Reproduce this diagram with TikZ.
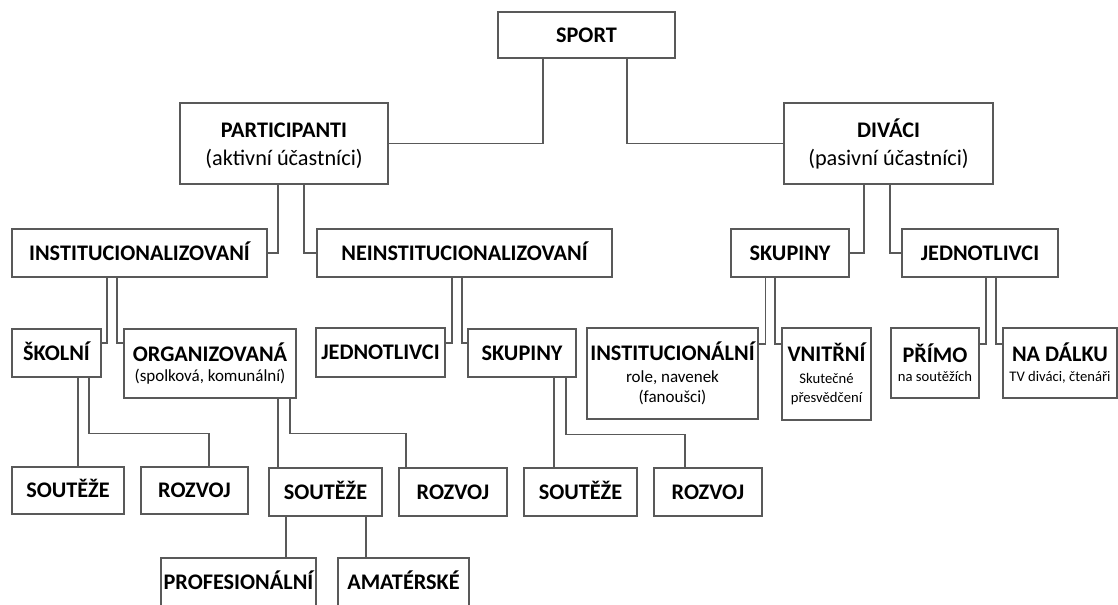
\documentclass[tikz,border=0pt]{standalone}
\usepackage{fontspec}
\setmainfont{Carlito}
\usepackage{xcolor}
\usetikzlibrary{calc}
\definecolor{linecolor}{HTML}{595959}
\newcommand{\midfont}{\fontsize{14.5}{17}\selectfont\mdseries}
\newcommand{\smallfont}{\fontsize{12.5}{15}\selectfont\mdseries}
\tikzset{
  box/.style={draw=linecolor, line width=1pt, rectangle, inner sep=0pt, align=center, fill=white, font=\fontsize{19}{21.5}\selectfont\bfseries},
  single/.style={box, text height=12pt, text depth=0pt},
  boxsize/.style 2 args={minimum width=#1*0.03cm, minimum height=#2*0.03cm},
  link/.style={draw=linecolor, line width=1pt}
}

\begin{document}
\begin{tikzpicture}[x=0.03cm, y=-0.03cm]%
\fill[white] (0,0) rectangle (1118,604);%
\useasboundingbox (0,0) rectangle (1118,604);%
% top
\node[single, boxsize={177}{46}] (sport) at (586.5,35) {SPORT};%
\node[box, boxsize={208}{81}] (part) at (284,143.5) {PARTICIPANTI\vphantom{Á}\\[2.5pt]\mdseries (aktivní účastníci)};%
\node[box, boxsize={209}{81}] (div) at (888.5,143.5) {DIVÁCI\\[2.5pt]\mdseries (pasivní účastníci)};%
% second row
\node[single, boxsize={255}{48}] (instit) at (139.5,253) {INSTITUCIONALIZOVANÍ};%
\node[single, boxsize={295}{48}] (neinst) at (464.5,253) {NEINSTITUCIONALIZOVANÍ};%
\node[single, boxsize={118}{48}] (skupd) at (790,253) {SKUPINY};%
\node[single, boxsize={156}{48}] (jednd) at (980,253) {JEDNOTLIVCI};%
% third row
\node[single, boxsize={89}{48}] (skolni) at (56.5,353) {ŠKOLNÍ};%
\node[box, boxsize={172}{69}] (organiz) at (210,363.5) {ORGANIZOVANÁ\\[-4.5pt]\midfont (spolková, komunální)};%
\node[single, boxsize={129}{49}] (jednp) at (380.5,352.5) {JEDNOTLIVCI};%
\node[single, boxsize={108}{48}] (skupp) at (522,353) {SKUPINY};%
\node[box, boxsize={171}{91}] (instl) at (672.5,373.5) {INSTITUCIONÁLNÍ\\[-2.7pt]\midfont role, navenek\\[-4.5pt]\midfont (fanoušci)};%
\node[box, boxsize={89}{92}] (vnit) at (826.5,374) {VNITŘNÍ\\[-3pt]\smallfont Skutečné\\[-4.7pt]\smallfont přesvědčení};%
\node[box, boxsize={88}{70}] (primo) at (935,363) {PŘÍMO\\[-5pt]\smallfont na soutěžích};%
\node[box, boxsize={114}{70}] (dalku) at (1060,363) {NA DÁLKU\vphantom{Ř}\\[-5pt]\smallfont TV diváci, čtenáři};%
% fourth row
\node[single, boxsize={112}{47}] (soutA) at (68,490.5) {SOUTĚŽE};%
\node[single, boxsize={107}{47}] (rozA) at (194.5,490.5) {ROZVOJ};%
\node[single, boxsize={113}{48}] (soutB) at (325.5,492) {SOUTĚŽE};%
\node[single, boxsize={108}{48}] (rozB) at (453,492) {ROZVOJ};%
\node[single, boxsize={113}{48}] (soutC) at (580.5,492) {SOUTĚŽE};%
\node[single, boxsize={108}{48}] (rozC) at (708,492) {ROZVOJ};%
% last row
\node[single, boxsize={155}{48}] (prof) at (238.5,582) {PROFESIONÁLNÍ};%
\node[single, boxsize={131}{48}] (amat) at (403.5,582) {AMATÉRSKÉ};%
% links
\draw[link] ($(sport.south)+(-43.5,0)$) |- (part.east);%
\draw[link] ($(sport.south)+(40.5,0)$) |- (div.west);%
\draw[link] ($(part.south)+(-6,0)$) |- (instit.east);%
\draw[link] ($(part.south)+(20,0)$) |- (neinst.west);%
\draw[link] ($(div.south)+(-24.5,0)$) |- (skupd.east);%
\draw[link] ($(div.south)+(1.5,0)$) |- (jednd.west);%
\draw[link] ($(instit.south)+(-32.5,0)$) |- ($(skolni.east)+(0,-10)$);%
\draw[link] ($(instit.south)+(-22.5,0)$) |- ($(organiz.west)+(0,-20.5)$);%
\draw[link] ($(neinst.south)+(-12.5,0)$) |- ($(jednp.east)+(0,-9.5)$);%
\draw[link] ($(neinst.south)+(-2.5,0)$) |- ($(skupp.west)+(0,-10)$);%
\draw[link] ($(skupd.south)+(-24.5,0)$) |- ($(instl.east)+(0,-29.5)$);%
\draw[link] ($(skupd.south)+(-15,0)$) |- ($(vnit.west)+(0,-30)$);%
\draw[link] ($(jednd.south)+(6,0)$) |- ($(primo.east)+(0,-19)$);%
\draw[link] ($(jednd.south)+(16,0)$) |- ($(dalku.west)+(0,-19)$);%
\draw[link] ($(skolni.south)+(21.5,0)$) -- ($(soutA.north)+(10,0)$);%
\draw[link] ($(skolni.south)+(32.5,0)$) |- ($(rozA.north)+(14.5,-33)$) -- ($(rozA.north)+(14.5,0)$);%
\draw[link] ($(organiz.south)+(68,0)$) -- ($(soutB.north)+(-47.5,0)$);%
\draw[link] ($(organiz.south)+(80,0)$) |- ($(rozB.north)+(-47,-34)$) -- ($(rozB.north)+(-47,0)$);%
\draw[link] ($(skupp.south)+(32,0)$) -- ($(soutC.north)+(-26.5,0)$);%
\draw[link] ($(skupp.south)+(44,0)$) |- ($(rozC.north)+(-23,-33)$) -- ($(rozC.north)+(-23,0)$);%
\draw[link] ($(soutB.south)+(-39.5,0)$) -- ($(prof.north)+(47.5,0)$);%
\draw[link] ($(soutB.south)+(40.5,0)$) -- ($(amat.north)+(-37.5,0)$);%
\end{tikzpicture}
\end{document}
